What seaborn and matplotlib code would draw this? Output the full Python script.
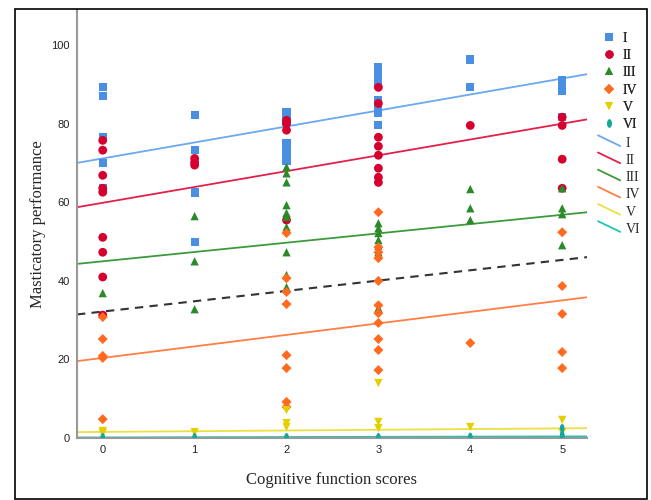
import numpy as np
import pandas as pd
import matplotlib.pyplot as plt
import seaborn as sns
from matplotlib.lines import Line2D
from matplotlib.path import Path
from matplotlib.transforms import Affine2D
from matplotlib.markers import MarkerStyle
from matplotlib.legend_handler import HandlerBase
from matplotlib.patches import Rectangle

# points, one pair of lists per group
x_I = [0, 0, 0, 0, 0, 1, 1, 1, 1, 1, 2, 2, 2, 2, 2, 2, 2,
       3, 3, 3, 3, 3, 3, 3, 3, 4, 4, 5, 5, 5, 5]
y_I = [89.3, 87.0, 76.6, 70.0, 63.6, 82.2, 73.3, 62.6, 62.3, 49.9, 83.0, 81.5, 80.5, 75.0, 73.5, 72.5, 70.5,
       94.4, 93.0, 91.5, 90.3, 86.0, 84.2, 82.7, 79.6, 96.4, 89.3, 91.1, 89.8, 88.5, 81.7]

x_II = [0, 0, 0, 0, 0, 0, 0, 0, 0, 1, 1, 1, 2, 2, 2, 2,
        3, 3, 3, 3, 3, 3, 3, 3, 4, 5, 5, 5, 5]
y_II = [75.8, 73.3, 66.9, 63.6, 62.6, 51.1, 47.3, 41.0, 31.3, 71.2, 70.2, 69.5, 80.9, 80.1, 78.4, 55.5,
        89.3, 85.2, 76.6, 74.3, 72.0, 68.7, 66.4, 65.1, 79.6, 81.7, 79.6, 71.0, 63.6]

x_III = [0, 1, 1, 1, 2, 2, 2, 2, 2, 2, 2, 2, 2, 2,
         3, 3, 3, 3, 3, 3, 3, 4, 4, 4, 5, 5, 5, 5]
y_III = [36.9, 56.5, 45.0, 32.8, 69.0, 67.4, 65.1, 59.3, 57.3, 56.3, 53.7, 47.3, 41.5, 38.4,
         54.7, 53.4, 52.2, 50.4, 47.3, 33.1, 49.0, 63.4, 58.5, 55.5, 63.6, 58.5, 57.0, 49.1]

x_IV = [0, 0, 0, 0, 0, 2, 2, 2, 2, 2, 2, 2, 2,
        3, 3, 3, 3, 3, 3, 3, 3, 3, 3, 3, 4, 5, 5, 5, 5, 5]
y_IV = [30.8, 25.2, 20.9, 20.4, 4.8, 52.2, 40.7, 37.2, 34.1, 21.1, 17.8, 9.2, 7.9,
        57.5, 48.6, 47.3, 45.8, 40.0, 33.8, 31.8, 29.3, 25.2, 22.4, 17.3, 24.2, 52.4, 38.7, 31.6, 21.9, 17.8]

x_V = [0, 0, 1, 2, 2, 2, 3, 3, 3, 4, 5, 5]
y_V = [1.8, 1.3, 1.5, 7.1, 3.8, 2.8, 14.0, 4.1, 2.5, 2.8, 4.6, 1.5]

x_VI = [0, 1, 2, 3, 4, 5, 5, 5]
y_VI = [0.2, 0.2, 0.2, 0.2, 0.3, 2.5, 0.8, 0.3]

groups = ['I', 'II', 'III', 'IV', 'V', 'VI']

# fitted lines (value at x=0, slope)
fit_intercept = [71.2, 59.9, 45.0, 20.4, 1.55, 0.15]
fit_slope = [4.07, 4.03, 2.37, 2.93, 0.18, 0.05]
total_intercept = 32.2
total_slope = 2.63

marker_colors = ['#4a8fe2', '#d6002f', '#2a8a2a', '#ff6a1f', '#e6cf00', '#14a89a']
line_colors = ['#6aa8f0', '#e2204a', '#3c9a3c', '#ff7f45', '#ece040', '#22c4b4']

xs = [x_I, x_II, x_III, x_IV, x_V, x_VI]
ys = [y_I, y_II, y_III, y_IV, y_V, y_VI]
df = pd.concat([pd.DataFrame({'score': x, 'perf': y, 'group': g})
                for g, x, y in zip(groups, xs, ys)], ignore_index=True)

ellipse = MarkerStyle(Path.unit_circle().transformed(Affine2D().scale(0.55, 1.0)))
markers = {'I': 's', 'II': 'o', 'III': '^', 'IV': 'D', 'V': 'v', 'VI': ellipse}
sizes = {'I': 34, 'II': 40, 'III': 36, 'IV': 26, 'V': 36, 'VI': 36}

sns.set_style('white')
plt.rcParams['font.family'] = ['Liberation Sans', 'DejaVu Sans']

fig = plt.figure(figsize=(6.51, 5.0), dpi=100)
ax = fig.add_axes([77 / 651, 1 - 438 / 500, (587 - 77) / 651, (438 - 10) / 500])

for g, c in zip(groups, marker_colors):
    sub = df[df['group'] == g]
    sns.scatterplot(data=sub, x='score', y='perf', marker=markers[g], color=c,
                    s=sizes[g], edgecolor='none', ax=ax, zorder=3)

xlim = (-0.28, 5.27)
xx = np.array(xlim)
for b0, b1, c in zip(fit_intercept, fit_slope, line_colors):
    ax.plot(xx, b0 + b1 * xx, color=c, lw=1.3, zorder=2)
ax.plot(xx, total_intercept + total_slope * xx, color='#333333', lw=1.5,
        ls=(0, (4, 3)), zorder=2)

ax.set_xlim(*xlim)
ax.set_ylim(0, 109)
ax.set_xticks(range(6))
ax.set_yticks(range(0, 101, 20))
ax.tick_params(length=0, labelsize=8, colors='#222222', pad=5)
for s in ['top', 'right']:
    ax.spines[s].set_visible(False)
for s in ['left', 'bottom']:
    ax.spines[s].set_color('#999999')
    ax.spines[s].set_linewidth(1.5)
ax.set_xlabel('Cognitive function scores', family='Liberation Serif', fontsize=12, labelpad=12)
ax.set_ylabel('Masticatory performance', family='Liberation Serif', fontsize=12)
ax.yaxis.set_label_coords(-31 / 510, 0.5)


class DiagHandler(HandlerBase):
    def create_artists(self, legend, orig_handle, xdescent, ydescent, width, height, fontsize, trans):
        ln = Line2D([-xdescent, -xdescent + width], [-ydescent + height * 1.2, -ydescent + height * 0.1],
                    color=orig_handle.get_color(), lw=orig_handle.get_linewidth(), transform=trans)
        return [ln]


mk_handles = [Line2D([], [], ls='none', marker=markers[g], color=c, markersize=6 if g != 'IV' else 5,
                     markeredgewidth=0) for g, c in zip(groups, marker_colors)]
ln_handles = [Line2D([], [], color=c, lw=1.3) for c in line_colors]

leg1 = fig.legend(mk_handles, groups, loc='upper left', bbox_to_anchor=(602 / 651, 1 - 32 / 500),
                  frameon=False, handlelength=1.0, handletextpad=0.5, labelspacing=0.3,
                  prop={'family': 'Liberation Serif', 'size': 10}, borderaxespad=0, borderpad=0)
leg2 = fig.legend(ln_handles, groups, loc='upper left', bbox_to_anchor=(598 / 651, 1 - 137 / 500),
                  frameon=False, handlelength=1.6, handletextpad=0.4, labelspacing=0.3,
                  handler_map={Line2D: DiagHandler()},
                  prop={'family': 'Liberation Serif', 'size': 10}, borderaxespad=0, borderpad=0)
fig.add_artist(leg1)

fig.patches.append(Rectangle((15 / 651, 1 / 500), (647 - 15) / 651, (500 - 10) / 500,
                             transform=fig.transFigure, fill=False, edgecolor='black', lw=1.2))

fig.savefig('out.png', dpi=100)
